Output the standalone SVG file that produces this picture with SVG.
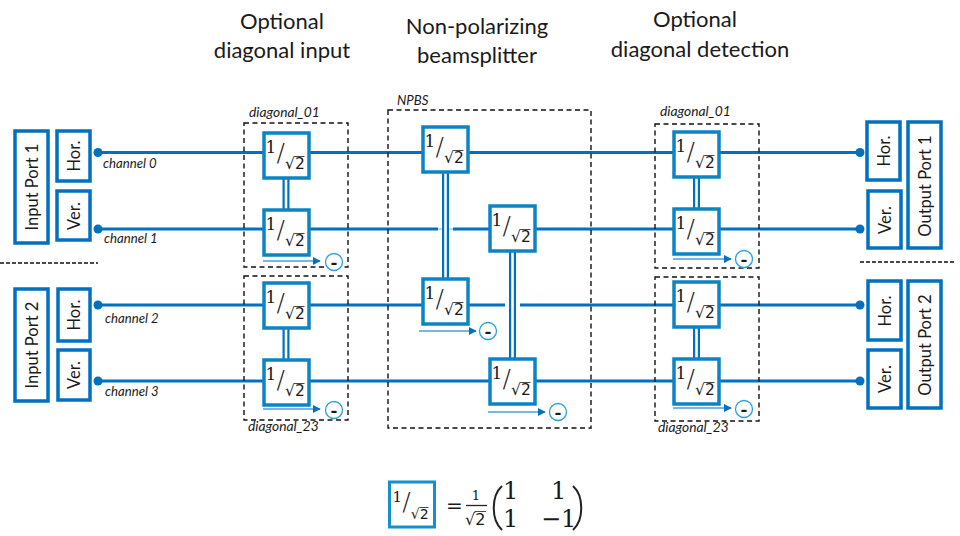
<svg xmlns="http://www.w3.org/2000/svg" width="960" height="536" viewBox="0 0 960 536">
<style>
text{font-family:"Lato","Noto Sans",sans-serif;fill:#1a1a1a}
.title{font-size:22px;text-anchor:middle}
.lab{font-size:13.200px;font-style:italic}
.dg{font-size:13.800px;font-style:italic}
.port{font-size:16.500px;text-anchor:middle}
.pb{fill:#fff;stroke:#0070c0;stroke-width:3.5}
.bs{fill:#fff;stroke:#0c84c4;stroke-width:3.5}
.wire{stroke:#0070c0;stroke-width:3.2;fill:none}
.dot{fill:#0070c0}
.dash{fill:none;stroke:#111;stroke-width:1.4;stroke-dasharray:5 3.5}
.sep{stroke:#111;stroke-width:1.4;stroke-dasharray:4 2;fill:none}
.dbl{fill:#0070c0}
.gapw{stroke:#fff;stroke-width:2.6;fill:none}
.arrow{stroke:#4a9fdc;stroke-width:1.5;fill:none}
.minus{fill:#fff;stroke:#2f9fd8;stroke-width:1.3}
.mn{font-size:20px;font-weight:700;text-anchor:middle}
.mt{stroke:#222;stroke-width:2;fill:none}
.f1{font-family:"DejaVu Serif","Liberation Serif",serif;font-size:17px}
.fs{font-family:"DejaVu Sans",sans-serif;font-size:25px;font-weight:200}
.f2{font-family:"DejaVu Sans",sans-serif;font-size:15.500px}
.m{font-family:"DejaVu Serif","Liberation Serif",serif;font-size:24px}
.vin{stroke:#333;stroke-width:.9;fill:none}
</style>
<defs>
<marker id="ah" viewBox="0 0 10 10" refX="9" refY="5" markerWidth="8" markerHeight="8" orient="auto" markerUnits="userSpaceOnUse"><path d="M0 0L10 5L0 10Z" fill="#0070c0"/></marker>
</defs>

<g id="titles">
<text class="title" x="282" y="29">Optional</text>
<text class="title" x="282" y="58">diagonal input</text>
<text class="title" x="477" y="34">Non-polarizing</text>
<text class="title" x="477" y="63">beamsplitter</text>
<text class="title" x="695" y="27">Optional</text>
<text class="title" x="700" y="57">diagonal detection</text>
</g>

<g id="connectors">
<path class="wire" d="M98 152.500H860"/>
<path class="wire" d="M98 229H438M453 229H860"/>
<path class="wire" d="M98 305H505M520 305H860"/>
<path class="wire" d="M98 381H860"/>
<path d="M438 229H453" stroke="#b9dcf3" stroke-width="2" fill="none"/>
<circle class="dot" cx="98" cy="152.500" r="4.500"/>
<circle class="dot" cx="98" cy="229" r="4.500"/>
<circle class="dot" cx="98" cy="305" r="4.500"/>
<circle class="dot" cx="98" cy="381" r="4.500"/>
<circle class="dot" cx="860" cy="152.500" r="4.500"/>
<circle class="dot" cx="860" cy="229" r="4.500"/>
<circle class="dot" cx="860" cy="305" r="4.500"/>
<circle class="dot" cx="860" cy="381" r="4.500"/>
<rect class="dbl" x="282.500" y="178" width="7" height="32"/><path class="gapw" d="M286 178V210"/>
<rect class="dbl" x="282.500" y="328" width="7" height="32"/><path class="gapw" d="M286 328V360"/>
<rect class="dbl" x="442" y="172" width="7" height="107"/><path class="gapw" d="M445.500 172V279"/>
<rect class="dbl" x="509" y="251" width="7" height="108"/><path class="gapw" d="M512.500 251V359"/>
<rect class="dbl" x="693" y="177" width="7" height="32"/><path class="gapw" d="M696.500 177V209"/>
<rect class="dbl" x="693" y="327" width="7" height="32"/><path class="gapw" d="M696.500 327V359"/>
<path class="arrow" d="M263 261H320" marker-end="url(#ah)"/>
<path class="arrow" d="M263 409H320" marker-end="url(#ah)"/>
<path class="arrow" d="M419 331H476" marker-end="url(#ah)"/>
<path class="arrow" d="M488 412H545" marker-end="url(#ah)"/>
<path class="arrow" d="M673 259H731" marker-end="url(#ah)"/>
<path class="arrow" d="M673 408H731" marker-end="url(#ah)"/>
</g>

<g id="groups">
<rect class="dash" x="244" y="123" width="104" height="144"/>
<rect class="dash" x="244" y="276" width="104" height="144"/>
<rect class="dash" x="388" y="110" width="203" height="318"/>
<rect class="dash" x="655" y="124" width="104" height="144"/>
<rect class="dash" x="655" y="277" width="104" height="144"/>
<path class="sep" d="M0 263H98"/>
<path class="sep" d="M860 262H954"/>
</g>

<g id="labels">
<text class="lab" x="103" y="168">channel 0</text>
<text class="lab" x="104" y="243">channel 1</text>
<text class="lab" x="105" y="323">channel 2</text>
<text class="lab" x="105" y="396">channel 3</text>
<text class="dg" x="249" y="117">diagonal_01</text>
<text class="dg" x="248" y="431">diagonal_23</text>
<text class="lab" x="397" y="105">NPBS</text>
<text class="dg" x="660" y="116">diagonal_01</text>
<text class="dg" x="658" y="432">diagonal_23</text>
</g>

<g id="input-port-1"><rect class="pb" x="15" y="131" width="33" height="112"/><text class="port" transform="translate(38 187) rotate(-90)">Input Port 1</text></g>
<g id="input-1-hor"><rect class="pb" x="57" y="131" width="33" height="50"/><text class="port" transform="translate(80 156) rotate(-90)">Hor.</text></g>
<g id="input-1-ver"><rect class="pb" x="57" y="191" width="33" height="49"/><text class="port" transform="translate(80 216) rotate(-90)">Ver.</text></g>
<g id="input-port-2"><rect class="pb" x="15" y="289" width="33" height="112"/><text class="port" transform="translate(38 345) rotate(-90)">Input Port 2</text></g>
<g id="input-2-hor"><rect class="pb" x="58" y="289" width="32" height="52"/><text class="port" transform="translate(80 315) rotate(-90)">Hor.</text></g>
<g id="input-2-ver"><rect class="pb" x="58" y="350" width="32" height="50"/><text class="port" transform="translate(80 375) rotate(-90)">Ver.</text></g>
<g id="output-1-hor"><rect class="pb" x="867" y="122" width="33" height="58"/><text class="port" transform="translate(890 151) rotate(-90)">Hor.</text></g>
<g id="output-1-ver"><rect class="pb" x="868" y="191" width="33" height="57"/><text class="port" transform="translate(891 220) rotate(-90)">Ver.</text></g>
<g id="output-port-1"><rect class="pb" x="908" y="122" width="33" height="126"/><text class="port" transform="translate(931 186) rotate(-90)">Output Port 1</text></g>
<g id="output-2-hor"><rect class="pb" x="868" y="281" width="33" height="59"/><text class="port" transform="translate(891 311) rotate(-90)">Hor.</text></g>
<g id="output-2-ver"><rect class="pb" x="868" y="350" width="33" height="58"/><text class="port" transform="translate(891 379) rotate(-90)">Ver.</text></g>
<g id="output-port-2"><rect class="pb" x="908" y="281" width="33" height="127"/><text class="port" transform="translate(931 345) rotate(-90)">Output Port 2</text></g>

<g id="bs-d01-top" transform="translate(264 133)"><rect class="bs" width="45" height="45"/><text><tspan class="f1" x="1.500" y="20">1</tspan><tspan class="fs" x="12.500" y="28">/</tspan><tspan class="f2" x="21" y="36">√2</tspan></text><path class="vin" d="M30.500 23.500H40.500"/></g>
<g id="bs-d01-bot" transform="translate(264 210)"><rect class="bs" width="45" height="45"/><text><tspan class="f1" x="1.500" y="20">1</tspan><tspan class="fs" x="12.500" y="28">/</tspan><tspan class="f2" x="21" y="36">√2</tspan></text><path class="vin" d="M30.500 23.500H40.500"/></g>
<g id="bs-d23-top" transform="translate(264 283)"><rect class="bs" width="45" height="45"/><text><tspan class="f1" x="1.500" y="20">1</tspan><tspan class="fs" x="12.500" y="28">/</tspan><tspan class="f2" x="21" y="36">√2</tspan></text><path class="vin" d="M30.500 23.500H40.500"/></g>
<g id="bs-d23-bot" transform="translate(264 360)"><rect class="bs" width="45" height="45"/><text><tspan class="f1" x="1.500" y="20">1</tspan><tspan class="fs" x="12.500" y="28">/</tspan><tspan class="f2" x="21" y="36">√2</tspan></text><path class="vin" d="M30.500 23.500H40.500"/></g>
<g id="bs-n-a" transform="translate(423 127)"><rect class="bs" width="45" height="45"/><text><tspan class="f1" x="1.500" y="20">1</tspan><tspan class="fs" x="12.500" y="28">/</tspan><tspan class="f2" x="21" y="36">√2</tspan></text><path class="vin" d="M30.500 23.500H40.500"/></g>
<g id="bs-n-b" transform="translate(423 279)"><rect class="bs" width="45" height="45"/><text><tspan class="f1" x="1.500" y="20">1</tspan><tspan class="fs" x="12.500" y="28">/</tspan><tspan class="f2" x="21" y="36">√2</tspan></text><path class="vin" d="M30.500 23.500H40.500"/></g>
<g id="bs-n-c" transform="translate(490 206)"><rect class="bs" width="45" height="45"/><text><tspan class="f1" x="1.500" y="20">1</tspan><tspan class="fs" x="12.500" y="28">/</tspan><tspan class="f2" x="21" y="36">√2</tspan></text><path class="vin" d="M30.500 23.500H40.500"/></g>
<g id="bs-n-d" transform="translate(490 359)"><rect class="bs" width="45" height="45"/><text><tspan class="f1" x="1.500" y="20">1</tspan><tspan class="fs" x="12.500" y="28">/</tspan><tspan class="f2" x="21" y="36">√2</tspan></text><path class="vin" d="M30.500 23.500H40.500"/></g>
<g id="bs-r01-top" transform="translate(674 132)"><rect class="bs" width="45" height="45"/><text><tspan class="f1" x="1.500" y="20">1</tspan><tspan class="fs" x="12.500" y="28">/</tspan><tspan class="f2" x="21" y="36">√2</tspan></text><path class="vin" d="M30.500 23.500H40.500"/></g>
<g id="bs-r01-bot" transform="translate(674 209)"><rect class="bs" width="45" height="45"/><text><tspan class="f1" x="1.500" y="20">1</tspan><tspan class="fs" x="12.500" y="28">/</tspan><tspan class="f2" x="21" y="36">√2</tspan></text><path class="vin" d="M30.500 23.500H40.500"/></g>
<g id="bs-r23-top" transform="translate(674 282)"><rect class="bs" width="45" height="45"/><text><tspan class="f1" x="1.500" y="20">1</tspan><tspan class="fs" x="12.500" y="28">/</tspan><tspan class="f2" x="21" y="36">√2</tspan></text><path class="vin" d="M30.500 23.500H40.500"/></g>
<g id="bs-r23-bot" transform="translate(674 359)"><rect class="bs" width="45" height="45"/><text><tspan class="f1" x="1.500" y="20">1</tspan><tspan class="fs" x="12.500" y="28">/</tspan><tspan class="f2" x="21" y="36">√2</tspan></text><path class="vin" d="M30.500 23.500H40.500"/></g>

<g id="minus-1"><circle class="minus" cx="334" cy="262" r="8.500"/><text class="mn" x="334" y="270">-</text></g>
<g id="minus-2"><circle class="minus" cx="334" cy="410" r="8.500"/><text class="mn" x="334" y="418">-</text></g>
<g id="minus-3"><circle class="minus" cx="488" cy="331" r="8.500"/><text class="mn" x="488" y="339">-</text></g>
<g id="minus-4"><circle class="minus" cx="558" cy="412" r="8.500"/><text class="mn" x="558" y="420">-</text></g>
<g id="minus-5"><circle class="minus" cx="744" cy="259" r="8.500"/><text class="mn" x="744" y="267">-</text></g>
<g id="minus-6"><circle class="minus" cx="744" cy="409" r="8.500"/><text class="mn" x="744" y="417">-</text></g>

<g id="formula">
<g transform="translate(389.500 482)"><rect width="45" height="45" fill="#fff" stroke="#1490cc" stroke-width="3"/><text><tspan class="f1" x="3" y="20" style="font-size:15px">1</tspan><tspan class="fs" x="12.700" y="28">/</tspan><tspan class="f2" x="21.300" y="37" style="font-size:14px">√2</tspan></text><path class="vin" d="M30 25.500H39"/></g>
<text x="446" y="512" style="font-family:'DejaVu Sans',sans-serif;font-size:20px">=</text>
<text x="476" y="500" text-anchor="middle" style="font-family:'DejaVu Serif',serif;font-size:13px">1</text>
<path d="M466 505.500H487" stroke="#222" stroke-width="1.300" fill="none"/>
<text x="465" y="525" style="font-family:'DejaVu Sans',sans-serif;font-size:16px">√2</text>
<path class="vin" d="M474.500 511.500H486"/>
<path class="mt" d="M502 486C491 496 491 520 502 530"/>
<path class="mt" d="M573 486C584 496 584 520 573 530"/>
<text class="m" x="503" y="499">1</text>
<text class="m" x="551" y="499">1</text>
<text class="m" x="503" y="527">1</text>
<text class="m" x="541" y="527">−1</text>
</g>
</svg>
